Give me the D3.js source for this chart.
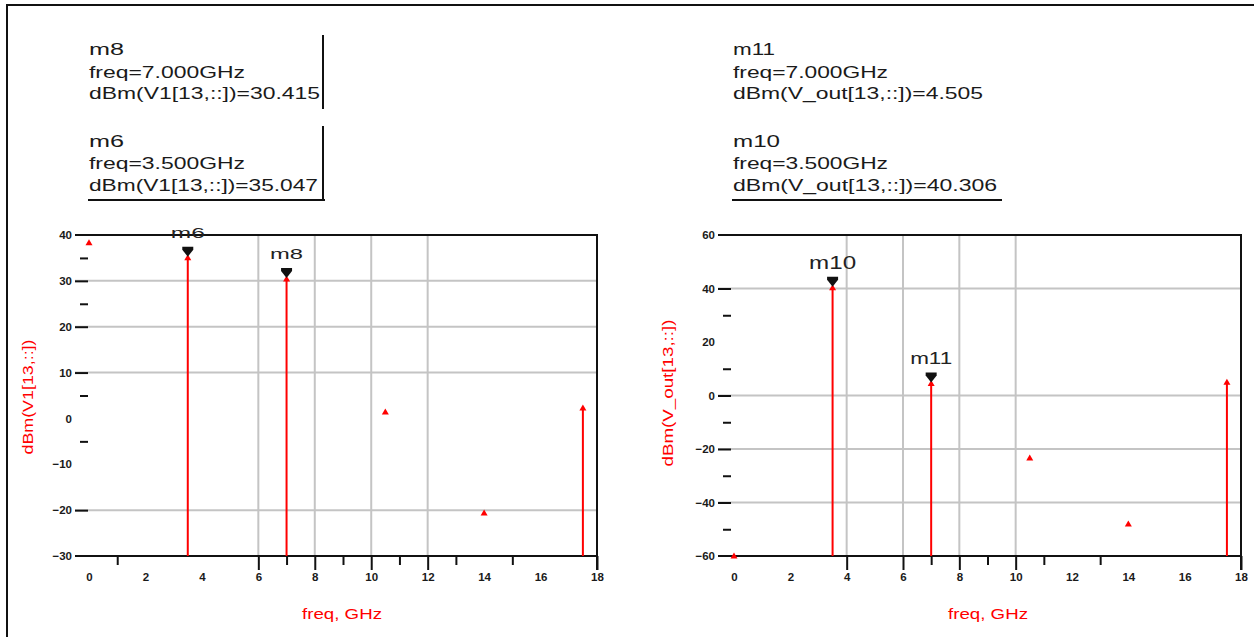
<!DOCTYPE html>
<html><head><meta charset="utf-8">
<script src="https://cdn.jsdelivr.net/npm/d3@7"></script>
<style>
body{margin:0;background:#fff}
svg{display:block}
text{font-family:"Liberation Sans",Arial,sans-serif}
</style>
</head><body>
<svg id="c" width="1254" height="637"></svg>
<script>
// ---- data ----
const freqs = [0, 3.5, 7, 10.5, 14, 17.5];
const v1Dbm = [38.3, 35.047, 30.415, 1.4, -20.6, 2.3];
const voutDbm = [-60, 40.306, 4.505, -23.4, -48.0, 5.0];
const stemFreqs = [3.5, 7, 17.5];
const xTickLabels = [0, 2, 4, 6, 8, 10, 12, 14, 16, 18];
const v1TickLabels = [40, 30, 20, 10, 0, -10, -20, -30];
const voutTickLabels = [60, 40, 20, 0, -20, -40, -60];
const v1GridY = [30, 20, 10, -20];
const v1GridX = [6, 8, 10, 12];
const v1MajorY = [30, 20, 10, -20];
const v1MinorY = [35, 25, 5, -5];
const v1MajorX = [6, 8, 10, 12, 18];
const v1MinorX = [1, 7, 9, 11, 13, 15];
const voutGridY = [40, 0, -20, -40];
const voutGridX = [4, 6, 8, 10];
const voutMajorY = [40, 0, -20, -40];
const voutMinorY = [30, 10, -10, -30, -50];
const voutMajorX = [4, 6, 8, 10, 18];
const voutMinorX = [7, 9, 11, 13];
const v1Markers = [{name: "m8", freq: 7}, {name: "m6", freq: 3.5}];
const voutMarkers = [{name: "m11", freq: 7}, {name: "m10", freq: 3.5}];

const svg = d3.select("#c");
const f3 = d3.format(".3f");

// outer border
svg.append("path").attr("d", "M7,637 L7,5 L1254,5").attr("fill", "none")
  .attr("stroke", "#111").attr("stroke-width", 2);

const charts = [
  {vals: v1Dbm, yDomain: [-30, 40], yLabels: v1TickLabels, gridY: v1GridY, gridX: v1GridX,
   majorY: v1MajorY, minorY: v1MinorY, majorX: v1MajorX, minorX: v1MinorX, markers: v1Markers,
   expr: "dBm(V1[13,::])", frameL: 75, x0: 89, x1: 597, top: 235, bottom: 556,
   yTitleX: 28, yTitleY: 397, yTitleLen: 115, xTitleX: 342,
   boxX: 89, boxRightLine: 323, boxBottom: [88, 325],
   boxW: [[35, 156, 231], [35, 156, 229]], mFont: [15, 15], mW: [33, 34]},
  {vals: voutDbm, yDomain: [-60, 60], yLabels: voutTickLabels, gridY: voutGridY, gridX: voutGridX,
   majorY: voutMajorY, minorY: voutMinorY, majorX: voutMajorX, minorX: voutMinorX, markers: voutMarkers,
   expr: "dBm(V_out[13,::])", frameL: 718, x0: 734, x1: 1241, top: 235, bottom: 556,
   yTitleX: 668, yTitleY: 393, yTitleLen: 147, xTitleX: 988,
   boxX: 733, boxRightLine: null, boxBottom: [732, 1002],
   boxW: [[42, 155, 250], [47, 155, 264]], mFont: [16, 19], mW: [42, 47]}
];

charts.forEach(c => {
  const g = svg.append("g");
  const x = d3.scaleLinear().domain([0, 18]).range([c.x0, c.x1]);
  const y = d3.scaleLinear().domain(c.yDomain).range([c.bottom, c.top]);

  // grid
  g.append("g").selectAll("line").data(c.gridY).join("line")
    .attr("x1", c.frameL).attr("x2", c.x1).attr("y1", d => y(d)).attr("y2", d => y(d))
    .attr("stroke", "#c4c4c4").attr("stroke-width", 2);
  g.append("g").selectAll("line").data(c.gridX).join("line")
    .attr("x1", d => x(d)).attr("x2", d => x(d)).attr("y1", c.top).attr("y2", c.bottom)
    .attr("stroke", "#c4c4c4").attr("stroke-width", 2);

  // axes ticks
  const styleAxis = sel => {
    sel.select(".domain").remove();
    sel.selectAll(".tick line").attr("stroke", "#111").attr("stroke-width", 2);
  };
  g.append("g").attr("transform", `translate(${c.frameL},0)`)
    .call(d3.axisRight(y).tickValues(c.majorY).tickSize(13).tickFormat("")).call(styleAxis);
  g.append("g").attr("transform", `translate(${c.frameL + 5},0)`)
    .call(d3.axisRight(y).tickValues(c.minorY).tickSize(8).tickFormat("")).call(styleAxis);
  g.append("g").attr("transform", `translate(0,${c.bottom})`)
    .call(d3.axisBottom(x).tickValues(c.majorX).tickSize(14).tickFormat("")).call(styleAxis);
  g.append("g").attr("transform", `translate(0,${c.bottom})`)
    .call(d3.axisBottom(x).tickValues(c.minorX).tickSize(9).tickFormat("")).call(styleAxis);

  // tick labels
  const yl = g.append("g").attr("transform", `translate(${c.frameL},0)`)
    .call(d3.axisLeft(y).tickValues(c.yLabels).tickSize(0).tickPadding(3));
  yl.select(".domain").remove();
  yl.selectAll("text").attr("font-size", 11.5).attr("font-weight", "bold").attr("fill", "#1a1a1a")
    .attr("font-family", "'Liberation Sans', Arial, sans-serif");
  const xl = g.append("g").attr("transform", `translate(0,${c.bottom})`)
    .call(d3.axisBottom(x).tickValues(xTickLabels).tickSize(0).tickPadding(17));
  xl.select(".domain").remove();
  xl.selectAll("text").attr("font-size", 11.5).attr("font-weight", "bold").attr("fill", "#1a1a1a")
    .attr("font-family", "'Liberation Sans', Arial, sans-serif");

  // frame
  g.append("path")
    .attr("d", `M${c.frameL},${c.top} L${c.x1},${c.top} L${c.x1},${c.bottom + 14} M${c.frameL},${c.bottom} L${c.x1},${c.bottom}`)
    .attr("fill", "none").attr("stroke", "#111").attr("stroke-width", 2);

  // data
  const pts = freqs.map((f, i) => ({f, v: c.vals[i]}));
  g.append("g").selectAll("line").data(pts.filter(p => stemFreqs.includes(p.f))).join("line")
    .attr("x1", d => x(d.f)).attr("x2", d => x(d.f))
    .attr("y1", c.bottom).attr("y2", d => y(d.v))
    .attr("stroke", "#ff0000").attr("stroke-width", 2);
  g.append("g").selectAll("path").data(pts).join("path")
    .attr("transform", d => `translate(${x(d.f)},${Math.min(y(d.v), c.bottom)})`)
    .attr("d", "M-3.5,2.5 L3.5,2.5 L0,-3.5 Z")
    .attr("fill", "#ff0000");

  // markers on plot
  c.markers.forEach((m, k) => {
    const v = c.vals[freqs.indexOf(m.freq)];
    const px = x(m.freq), py = y(v);
    g.append("path").attr("transform", `translate(${px},${py})`)
      .attr("d", "M-5.5,-11 L5.5,-11 L5.5,-8 L0,-1 L-5.5,-8 Z").attr("fill", "#111");
    g.append("text").attr("x", px).attr("y", py - 25).attr("dy", "0.35em")
      .attr("text-anchor", "middle").attr("font-size", c.mFont[k])
      .attr("textLength", c.mW[k]).attr("lengthAdjust", "spacingAndGlyphs")
      .attr("fill", "#222").text(m.name);
  });

  // info boxes
  const baselines = [[55, 78, 99], [147, 169, 191]];
  const tops = [35, 126];
  c.markers.forEach((m, k) => {
    const v = c.vals[freqs.indexOf(m.freq)];
    const lines = [m.name, `freq=${f3(m.freq)}GHz`, `${c.expr}=${f3(v)}`];
    lines.forEach((t, j) => {
      g.append("text").attr("x", c.boxX).attr("y", baselines[k][j])
        .attr("font-size", 16).attr("fill", "#1a1a1a")
        .attr("textLength", c.boxW[k][j]).attr("lengthAdjust", "spacingAndGlyphs").text(t);
    });
    if (c.boxRightLine !== null) {
      g.append("line").attr("x1", c.boxRightLine).attr("x2", c.boxRightLine)
        .attr("y1", tops[k]).attr("y2", k === 1 ? 201 : tops[k] + 74)
        .attr("stroke", "#111").attr("stroke-width", 2);
    }
  });
  g.append("line").attr("x1", c.boxBottom[0]).attr("x2", c.boxBottom[1])
    .attr("y1", 200).attr("y2", 200).attr("stroke", "#111").attr("stroke-width", 2);

  // axis titles
  g.append("text").attr("transform", `translate(${c.yTitleX},${c.yTitleY}) rotate(-90)`)
    .attr("text-anchor", "middle").attr("dy", "0.35em").attr("font-size", 14)
    .attr("textLength", c.yTitleLen).attr("lengthAdjust", "spacingAndGlyphs")
    .attr("fill", "#ff0000").text(c.expr);
  g.append("text").attr("x", c.xTitleX).attr("y", 614).attr("dy", "0.35em")
    .attr("text-anchor", "middle").attr("font-size", 15)
    .attr("textLength", 80).attr("lengthAdjust", "spacingAndGlyphs")
    .attr("fill", "#ff0000").text("freq, GHz");
});
</script>
</body></html>
